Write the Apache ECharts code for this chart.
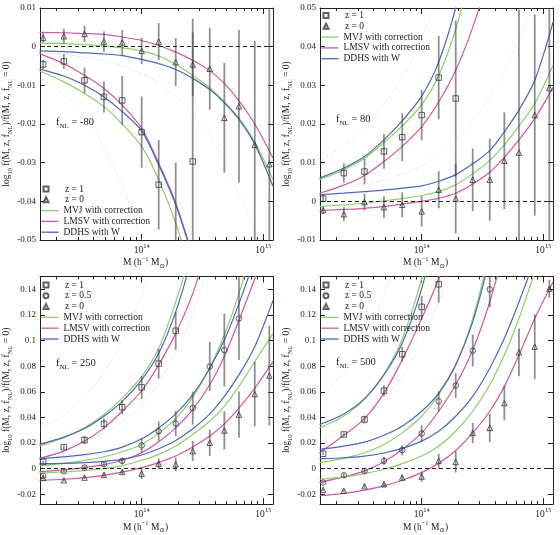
<!DOCTYPE html>
<html>
<head>
<meta charset="utf-8">
<script src="https://cdn.jsdelivr.net/npm/echarts@6/dist/echarts.min.js"></script>
<style>
  html, body { margin: 0; background: #fff; }
  #chart { width: 560px; height: 535px; }
</style>
</head>
<body>
<div id="chart"></div>
<script>
// log10 of the mass-bin centres (h^-1 Msun) and of the points where the model curves are sampled
const binLogM = [13.19, 13.36, 13.53, 13.69, 13.84, 14.0, 14.14, 14.28, 14.42, 14.56, 14.68, 14.8, 14.93, 15.05];
const curveLogM = [13.16, 13.36, 13.53, 13.69, 13.84, 14.0, 14.14, 14.28, 14.42, 14.56, 14.68, 14.8, 14.93, 15.08];

// axis ticks
const xMajorTicks = [14, 15];
const xMinorMantissa = [2, 3, 4, 5, 6, 7, 8, 9];
const yTicksP1 = [-0.05, -0.04, -0.03, -0.02, -0.01, 0, 0.01];
const yTicksP2 = [-0.01, 0, 0.01, 0.02, 0.03, 0.04, 0.05];
const yTicksP34 = [-0.02, 0, 0.02, 0.04, 0.06, 0.08, 0.1, 0.12, 0.14];
const fnlLabels = ['-80', '80', '250', '500'];

// ---- panel 1 : fNL = -80
const p1SqVal = [-0.0046, -0.0038, -0.0087, -0.013, -0.0139, -0.0221, -0.0357, -0.056, -0.0297];
const p1SqErr = [0.0012, 0.0019, 0.0033, 0.004, 0.0063, 0.0092, 0.0116, 0.026, 0.0369];
const p1TrVal = [0.0023, 0.0027, 0.0033, 0.0013, 0.0011, -0.0011, 0.0013, -0.004, -0.0046, -0.0057, -0.0184, -0.0154, -0.0254, -0.0304];
const p1TrErr = [0.0012, 0.0019, 0.0021, 0.0026, 0.0032, 0.0034, 0.0048, 0.0062, 0.0082, 0.0106, 0.0142, 0.0197, 0.0269, 0.0404];
const p1MvjZ1 = [-0.0063, -0.0091, -0.0121, -0.0155, -0.02, -0.0258, -0.0344, -0.0456, -0.0602];
const p1LmsvZ1 = [-0.0018, -0.0044, -0.0074, -0.0108, -0.0151, -0.0211, -0.0301, -0.0404, -0.0541];
const p1DdhsZ1 = [-0.0058, -0.0076, -0.01, -0.013, -0.0168, -0.0218, -0.0306, -0.0409, -0.0546];
const p1MvjZ0 = [0.0009, 0.0008, 0.0005, 0.0002, -0.0003, -0.0011, -0.0024, -0.0046, -0.0074, -0.0106, -0.0143, -0.0185, -0.0246, -0.0344];
const p1LmsvZ0 = [0.0037, 0.0036, 0.0034, 0.0032, 0.0025, 0.0016, 0.0003, -0.0014, -0.0035, -0.0062, -0.0095, -0.014, -0.02, -0.0288];
const p1DdhsZ0 = [-0.0011, -0.0013, -0.0016, -0.0019, -0.0023, -0.0033, -0.0044, -0.0059, -0.0082, -0.0111, -0.0145, -0.0188, -0.0252, -0.0361];
// faint dotted curves (uncorrected models)
const p1DotA = [-0.008, -0.0125, -0.018, -0.026, -0.036, -0.05, -0.066];
const p1DotB = [-0.0015, -0.002, -0.0027, -0.0036, -0.005, -0.007, -0.0095, -0.013, -0.0175, -0.023, -0.03, -0.038, -0.048, -0.065];

// ---- panel 2 : fNL = 80
const p2SqVal = [0.0007, 0.0073, 0.0077, 0.0129, 0.0166, 0.0223, 0.032, 0.0266];
const p2SqErr = [0.001, 0.0025, 0.0033, 0.0045, 0.0062, 0.0065, 0.0108, 0.0202];
const p2TrVal = [-0.0023, -0.0033, -0.0002, -0.0015, -0.0009, -0.0026, 0.003, 0.0007, 0.0056, 0.0056, 0.0105, 0.0126, 0.0223, 0.0293];
const p2TrErr = [0.001, 0.0018, 0.0022, 0.0028, 0.0032, 0.0039, 0.0048, 0.009, 0.0081, 0.0106, 0.0125, 0.037, 0.026, 0.04];
const p2MvjZ1 = [0.0056, 0.0082, 0.0111, 0.0152, 0.0195, 0.025, 0.0325, 0.0445, 0.061];
const p2LmsvZ1 = [0.0021, 0.0042, 0.0067, 0.0103, 0.0142, 0.0193, 0.0257, 0.0339, 0.045, 0.0588];
const p2DdhsZ1 = [0.006, 0.0086, 0.0116, 0.0159, 0.0208, 0.0272, 0.036, 0.05, 0.068];
const p2MvjZ0 = [-0.0013, -0.0009, -0.0005, 0.0001, 0.0007, 0.0015, 0.0025, 0.0043, 0.0071, 0.0106, 0.0146, 0.0195, 0.0253, 0.0352];
const p2LmsvZ0 = [-0.0024, -0.0021, -0.0018, -0.0013, -0.0007, 0.0, 0.0008, 0.0021, 0.0045, 0.0075, 0.0114, 0.0159, 0.0214, 0.0294];
const p2DdhsZ0 = [0.0017, 0.0021, 0.0025, 0.0029, 0.0034, 0.004, 0.0052, 0.0069, 0.0097, 0.0131, 0.018, 0.0236, 0.0313, 0.0463];
const p2DotA = [0.0105, 0.0145, 0.019, 0.025, 0.032, 0.042, 0.055];
const p2DotB = [0.003, 0.0037, 0.0045, 0.0056, 0.007, 0.0092, 0.0122, 0.016, 0.021, 0.027, 0.034, 0.042, 0.052];

// ---- panel 3 : fNL = 250
const p3SqVal = [0.0052, 0.0168, 0.0223, 0.0349, 0.0479, 0.0634, 0.082, 0.1076];
const p3SqErr = [0.001, 0.0015, 0.0032, 0.0043, 0.0054, 0.009, 0.0116, 0.0148];
const p3CiVal = [-0.0057, -0.0021, 0.0008, 0.0034, 0.006, 0.0181, 0.0292, 0.0352, 0.0473, 0.0797, 0.0926, 0.1172];
const p3CiErr = [0.0008, 0.0012, 0.0015, 0.002, 0.0025, 0.0058, 0.0075, 0.0097, 0.013, 0.0191, 0.0285, 0.0323];
const p3TrVal = [-0.0072, -0.0091, -0.007, -0.0049, -0.0026, -0.0039, 0.0039, 0.0034, 0.0137, 0.0202, 0.0298, 0.0422, 0.0582, 0.0727];
const p3TrErr = [0.0008, 0.001, 0.0012, 0.0015, 0.0018, 0.0043, 0.0041, 0.0052, 0.0078, 0.0103, 0.0149, 0.0181, 0.0252, 0.039];
const p3MvjZ1 = [0.0176, 0.0241, 0.0318, 0.0422, 0.0551, 0.0719, 0.0939, 0.1301, 0.1741];
const p3LmsvZ1 = [0.008, 0.0137, 0.0215, 0.0318, 0.0448, 0.0608, 0.081, 0.1056, 0.1366, 0.1793];
const p3DdhsZ1 = [0.0189, 0.0246, 0.0313, 0.0409, 0.0525, 0.0693, 0.09, 0.1224, 0.1664];
const p3MvjZh = [0.0023, 0.0041, 0.0065, 0.0093, 0.0132, 0.0189, 0.0277, 0.0391, 0.0556, 0.0789, 0.1043, 0.1366, 0.1793];
const p3LmsvZh = [-0.0023, -0.001, 0.0008, 0.0031, 0.0065, 0.0124, 0.021, 0.0318, 0.0461, 0.0655, 0.0875, 0.1159, 0.1483, 0.1897];
const p3DdhsZh = [0.0078, 0.0091, 0.0109, 0.0132, 0.0168, 0.0233, 0.0318, 0.0427, 0.0577, 0.0784, 0.1004, 0.1288, 0.1638];
const p3MvjZ0 = [-0.0034, -0.0026, -0.0016, 0.0, 0.0023, 0.0065, 0.0111, 0.0176, 0.0267, 0.037, 0.0486, 0.0642, 0.0836, 0.1056];
const p3LmsvZ0 = [-0.0091, -0.0083, -0.007, -0.0052, -0.0028, 0.0008, 0.0047, 0.0098, 0.0168, 0.0254, 0.0349, 0.0473, 0.0629, 0.0836];
const p3DdhsZ0 = [0.0039, 0.0041, 0.0047, 0.0057, 0.0072, 0.0106, 0.0155, 0.022, 0.0311, 0.0427, 0.0564, 0.0732, 0.0952, 0.1314];
const p3DotA = [0.03, 0.042, 0.056, 0.075, 0.1, 0.135, 0.18];
const p3DotB = [0.012, 0.016, 0.021, 0.028, 0.037, 0.05, 0.067, 0.09, 0.12, 0.16];
const p3DotC = [0.006, 0.0075, 0.0095, 0.012, 0.016, 0.022, 0.03, 0.04, 0.053, 0.07, 0.09, 0.115, 0.15];

// ---- panel 4 : fNL = 500
const p4SqVal = [0.0116, 0.0267, 0.0383, 0.0608, 0.0893, 0.1263, 0.1439];
const p4SqErr = [0.001, 0.0015, 0.003, 0.0043, 0.0057, 0.0085, 0.0142];
const p4CiVal = [-0.0109, -0.0052, -0.0018, 0.006, 0.0145, 0.0274, 0.0525, 0.0649, 0.0921, 0.14];
const p4CiErr = [0.001, 0.0015, 0.002, 0.003, 0.004, 0.0065, 0.0078, 0.0097, 0.0124, 0.014];
const p4TrVal = [-0.0166, -0.0173, -0.0137, -0.0122, -0.007, -0.0062, 0.006, 0.0052, 0.0279, 0.0318, 0.0512, 0.0908, 0.0952, 0.1405];
const p4TrErr = [0.001, 0.0012, 0.0015, 0.002, 0.0025, 0.004, 0.0057, 0.0083, 0.0078, 0.011, 0.0135, 0.0186, 0.0254, 0.007];
const p4MvjZ1 = [0.0318, 0.0411, 0.0541, 0.0737, 0.1012, 0.1483, 0.2052];
const p4LmsvZ1 = [0.0124, 0.0261, 0.0391, 0.059, 0.0849, 0.1172, 0.1483, 0.1897];
const p4DdhsZ1 = [0.0344, 0.0427, 0.0546, 0.0732, 0.0978, 0.1405, 0.1974];
const p4MvjZh = [0.0047, 0.008, 0.0124, 0.0189, 0.0279, 0.0409, 0.0577, 0.081, 0.1172, 0.169];
const p4LmsvZh = [-0.0109, -0.0065, -0.0018, 0.0054, 0.015, 0.0279, 0.0448, 0.0655, 0.0926, 0.1301, 0.1715];
const p4DdhsZh = [0.015, 0.0176, 0.0207, 0.0261, 0.0331, 0.0448, 0.059, 0.081, 0.1146, 0.1638];
const p4MvjZ0 = [-0.0083, -0.0065, -0.0039, -0.0005, 0.0039, 0.0098, 0.0176, 0.0292, 0.0448, 0.0655, 0.0887, 0.1172, 0.1534, 0.1974];
const p4LmsvZ0 = [-0.0212, -0.0194, -0.0168, -0.0135, -0.0091, -0.0031, 0.0041, 0.0142, 0.0279, 0.0448, 0.0642, 0.0887, 0.1172, 0.1457];
const p4DdhsZ0 = [0.0078, 0.0085, 0.0098, 0.0122, 0.0158, 0.0215, 0.0292, 0.0409, 0.0564, 0.0784, 0.1017, 0.1301, 0.1638];
const p4DotA = [0.055, 0.075, 0.1, 0.135, 0.18];
const p4DotB = [0.022, 0.03, 0.04, 0.054, 0.072, 0.098, 0.13, 0.175];
const p4DotC = [0.012, 0.015, 0.019, 0.025, 0.033, 0.044, 0.059, 0.079, 0.105, 0.14, 0.18];

// ---- styling / layout
const FONT = '"Liberation Serif", "DejaVu Serif", serif';
const INK = '#222';
const GREEN = '#8dcf6a', PINK = '#cc5aa6', BLUE = '#4a69b8';
const BAR = 'rgba(70,70,70,0.6)';
const MVJ = 'MVJ with correction', LMSV = 'LMSV with correction', DDHS = 'DDHS with W';
const X_MIN = 13.164, X_MAX = 15.08;

const grids = [
  { left: 40, top: 8, width: 233, height: 232 },
  { left: 320, top: 8, width: 233, height: 232 },
  { left: 40, top: 276.5, width: 233, height: 228.5 },
  { left: 320, top: 276.5, width: 233, height: 228.5 }
];
const legendTop = [183.6, 10.1, 279.6, 279.6];
const fnlTop = [114.5, 111.5, 356, 355];
const yRanges = [[-0.05, 0.01], [-0.01, 0.05], [-0.0277, 0.15], [-0.0277, 0.15]];
const yTicks = [yTicksP1, yTicksP2, yTicksP34, yTicksP34];

const SQ = { name: 'z = 1', symbol: 'rect' };
const CI = { name: 'z = 0.5', symbol: 'circle' };
const TR = { name: 'z = 0', symbol: 'triangle' };

const panels = [
  { points: [[SQ, p1SqVal, p1SqErr], [TR, p1TrVal, p1TrErr]],
    dotted: [p1DotA, p1DotB],
    curves: [[MVJ, GREEN, p1MvjZ1], [LMSV, PINK, p1LmsvZ1], [DDHS, BLUE, p1DdhsZ1],
             [MVJ, GREEN, p1MvjZ0], [LMSV, PINK, p1LmsvZ0], [DDHS, BLUE, p1DdhsZ0]] },
  { points: [[SQ, p2SqVal, p2SqErr], [TR, p2TrVal, p2TrErr]],
    dotted: [p2DotA, p2DotB],
    curves: [[MVJ, GREEN, p2MvjZ1], [LMSV, PINK, p2LmsvZ1], [DDHS, BLUE, p2DdhsZ1],
             [MVJ, GREEN, p2MvjZ0], [LMSV, PINK, p2LmsvZ0], [DDHS, BLUE, p2DdhsZ0]] },
  { points: [[SQ, p3SqVal, p3SqErr], [CI, p3CiVal, p3CiErr], [TR, p3TrVal, p3TrErr]],
    dotted: [p3DotA, p3DotB, p3DotC],
    curves: [[MVJ, GREEN, p3MvjZ1], [LMSV, PINK, p3LmsvZ1], [DDHS, BLUE, p3DdhsZ1],
             [MVJ, GREEN, p3MvjZh], [LMSV, PINK, p3LmsvZh], [DDHS, BLUE, p3DdhsZh],
             [MVJ, GREEN, p3MvjZ0], [LMSV, PINK, p3LmsvZ0], [DDHS, BLUE, p3DdhsZ0]] },
  { points: [[SQ, p4SqVal, p4SqErr], [CI, p4CiVal, p4CiErr], [TR, p4TrVal, p4TrErr]],
    dotted: [p4DotA, p4DotB, p4DotC],
    curves: [[MVJ, GREEN, p4MvjZ1], [LMSV, PINK, p4LmsvZ1], [DDHS, BLUE, p4DdhsZ1],
             [MVJ, GREEN, p4MvjZh], [LMSV, PINK, p4LmsvZh], [DDHS, BLUE, p4DdhsZh],
             [MVJ, GREEN, p4MvjZ0], [LMSV, PINK, p4LmsvZ0], [DDHS, BLUE, p4DdhsZ0]] }
];

const xMinorTicks = [];
[13, 14].forEach(d => xMinorMantissa.forEach(m => xMinorTicks.push(d + Math.log10(m))));

const subRich = {
  n: { fontSize: 9.5, fontFamily: FONT, color: INK, lineHeight: 14, verticalAlign: 'middle' },
  s: { fontSize: 6.5, fontFamily: FONT, color: INK, lineHeight: 14, verticalAlign: 'bottom' },
  p: { fontSize: 6.5, fontFamily: FONT, color: INK, lineHeight: 14, verticalAlign: 'top' }
};

function xAxisDef(gi, position, ticks, len, main, labels) {
  return {
    type: 'value', gridIndex: gi, position: position, min: X_MIN, max: X_MAX,
    axisLine: { show: main, onZero: false, lineStyle: { color: INK, width: 1 } },
    axisTick: { show: true, inside: true, length: len, customValues: ticks, lineStyle: { color: INK, width: 1 } },
    axisLabel: labels ? {
      show: true, customValues: xMajorTicks, margin: 3,
      formatter: v => '{n|10}{p|' + Math.round(v) + '}', rich: subRich
    } : { show: false },
    splitLine: { show: false },
    name: labels ? '{n|M (h}{p|−1}{n| M}{s|⊙}{n|)}' : '',
    nameLocation: 'middle', nameGap: 12,
    nameTextStyle: { rich: subRich, padding: [0, 22, 0, 0] }
  };
}

function yAxisDef(gi, position, labels) {
  return {
    type: 'value', gridIndex: gi, position: position,
    min: yRanges[gi][0], max: yRanges[gi][1],
    axisLine: { show: true, onZero: false, lineStyle: { color: INK, width: 1 } },
    axisTick: { show: true, inside: true, length: 5, customValues: yTicks[gi], lineStyle: { color: INK, width: 1 } },
    axisLabel: labels ? {
      show: true, customValues: yTicks[gi], margin: 4, color: INK, fontSize: 9, fontFamily: FONT,
      formatter: v => String(Number(v.toFixed(4)))
    } : { show: false },
    splitLine: { show: false },
    name: labels ? '{n|log}{s|10}{n| f(M, z, f}{s|NL}{n|)/f(M, z, f}{s|NL}{n| = 0)}' : '',
    nameLocation: 'middle', nameGap: 17, nameRotate: 90,
    nameTextStyle: { rich: subRich }
  };
}

const option = {
  animation: false,
  backgroundColor: '#fff',
  textStyle: { fontFamily: FONT },
  grid: grids,
  xAxis: [], yAxis: [], series: [], legend: [], title: []
};

panels.forEach((p, gi) => {
  const xi = gi * 4, yi = gi * 2;
  option.xAxis.push(
    xAxisDef(gi, 'bottom', xMajorTicks, 6, true, true),
    xAxisDef(gi, 'bottom', xMinorTicks, 3, false, false),
    xAxisDef(gi, 'top', xMajorTicks, 6, true, false),
    xAxisDef(gi, 'top', xMinorTicks, 3, false, false)
  );
  option.yAxis.push(yAxisDef(gi, 'left', true), yAxisDef(gi, 'right', false));

  // faint dotted reference curves
  p.dotted.forEach(vals => {
    option.series.push({
      type: 'line', xAxisIndex: xi, yAxisIndex: yi,
      data: vals.map((v, k) => [curveLogM[k], v]),
      smooth: 0.3, symbol: 'none', silent: true, z: 1,
      lineStyle: { color: '#cfcfcf', width: 0.8, type: [1, 2] }
    });
  });

  // model curves
  p.curves.forEach(([name, color, vals], ci) => {
    const s = {
      type: 'line', name: name, xAxisIndex: xi, yAxisIndex: yi,
      data: vals.map((v, k) => [curveLogM[k], v]),
      smooth: 0.3, symbol: 'none', silent: true, z: 3,
      lineStyle: { color: color, width: 1.2 }, itemStyle: { color: color }
    };
    if (ci === 0) {
      s.markLine = {
        silent: true, symbol: ['none', 'none'], label: { show: false },
        lineStyle: { color: INK, type: [4, 3], width: 1 },
        data: [{ yAxis: 0 }]
      };
    }
    option.series.push(s);
  });

  // measured points with error bars
  p.points.forEach(([kind, vals, errs]) => {
    const rows = vals.map((v, k) => [binLogM[k], v, errs[k]]);
    option.series.push({
      type: 'custom', xAxisIndex: xi, yAxisIndex: yi, clip: true, silent: true, z: 4,
      data: rows, encode: { x: 0, y: 1 },
      renderItem: (params, api) => {
        const x = api.value(0), y = api.value(1), e = api.value(2);
        const a = api.coord([x, y - e]), b = api.coord([x, y + e]);
        return { type: 'line', shape: { x1: a[0], y1: a[1], x2: b[0], y2: b[1] },
                 style: { stroke: BAR, lineWidth: 1.8 } };
      }
    });
    option.series.push({
      type: 'scatter', name: kind.name, xAxisIndex: xi, yAxisIndex: yi,
      symbol: kind.symbol, symbolSize: 5.5, silent: true, z: 5,
      data: rows.map(r => [r[0], r[1]]),
      itemStyle: { color: 'rgba(255,255,255,0)', borderColor: '#3a3a3a', borderWidth: 1 }
    });
  });

  const g = grids[gi];
  const markers = p.points.map(([kind]) => kind.name);
  option.legend.push({
    orient: 'vertical', left: g.left + 2.5, top: legendTop[gi], padding: 0,
    itemWidth: 5, itemHeight: 5, itemGap: 0, selectedMode: false,
    data: markers,
    formatter: n => '{a|' + n + '}',
    textStyle: { fontFamily: FONT, fontSize: 9.5, color: INK, lineHeight: 10.8,
                 rich: { a: { fontFamily: FONT, fontSize: 9.5, color: INK, lineHeight: 10.8, padding: [0, 0, 0, 11.5] } } }
  });
  option.legend.push({
    orient: 'vertical', left: g.left + 1.5, top: legendTop[gi] + markers.length * 10.8, padding: 0,
    itemWidth: 17, itemHeight: 1.3, itemGap: 0, selectedMode: false, icon: 'rect',
    data: [MVJ, LMSV, DDHS],
    textStyle: { fontFamily: FONT, fontSize: 9.5, color: INK, lineHeight: 10.8 }
  });

  option.title.push({
    text: '{f|f}{s|NL}{f| = ' + fnlLabels[gi] + '}',
    left: g.left + 16, top: fnlTop[gi], padding: 0,
    textStyle: { fontWeight: 'normal', rich: {
      f: { fontSize: 10.5, fontFamily: FONT, fontWeight: 'normal', color: INK, lineHeight: 15, verticalAlign: 'middle' },
      s: { fontSize: 7, fontFamily: FONT, fontWeight: 'normal', color: INK, lineHeight: 15, verticalAlign: 'bottom' }
    } }
  });
});

const chart = echarts.init(document.getElementById('chart'), null, { renderer: 'canvas' });
chart.setOption(option);
</script>
</body>
</html>
